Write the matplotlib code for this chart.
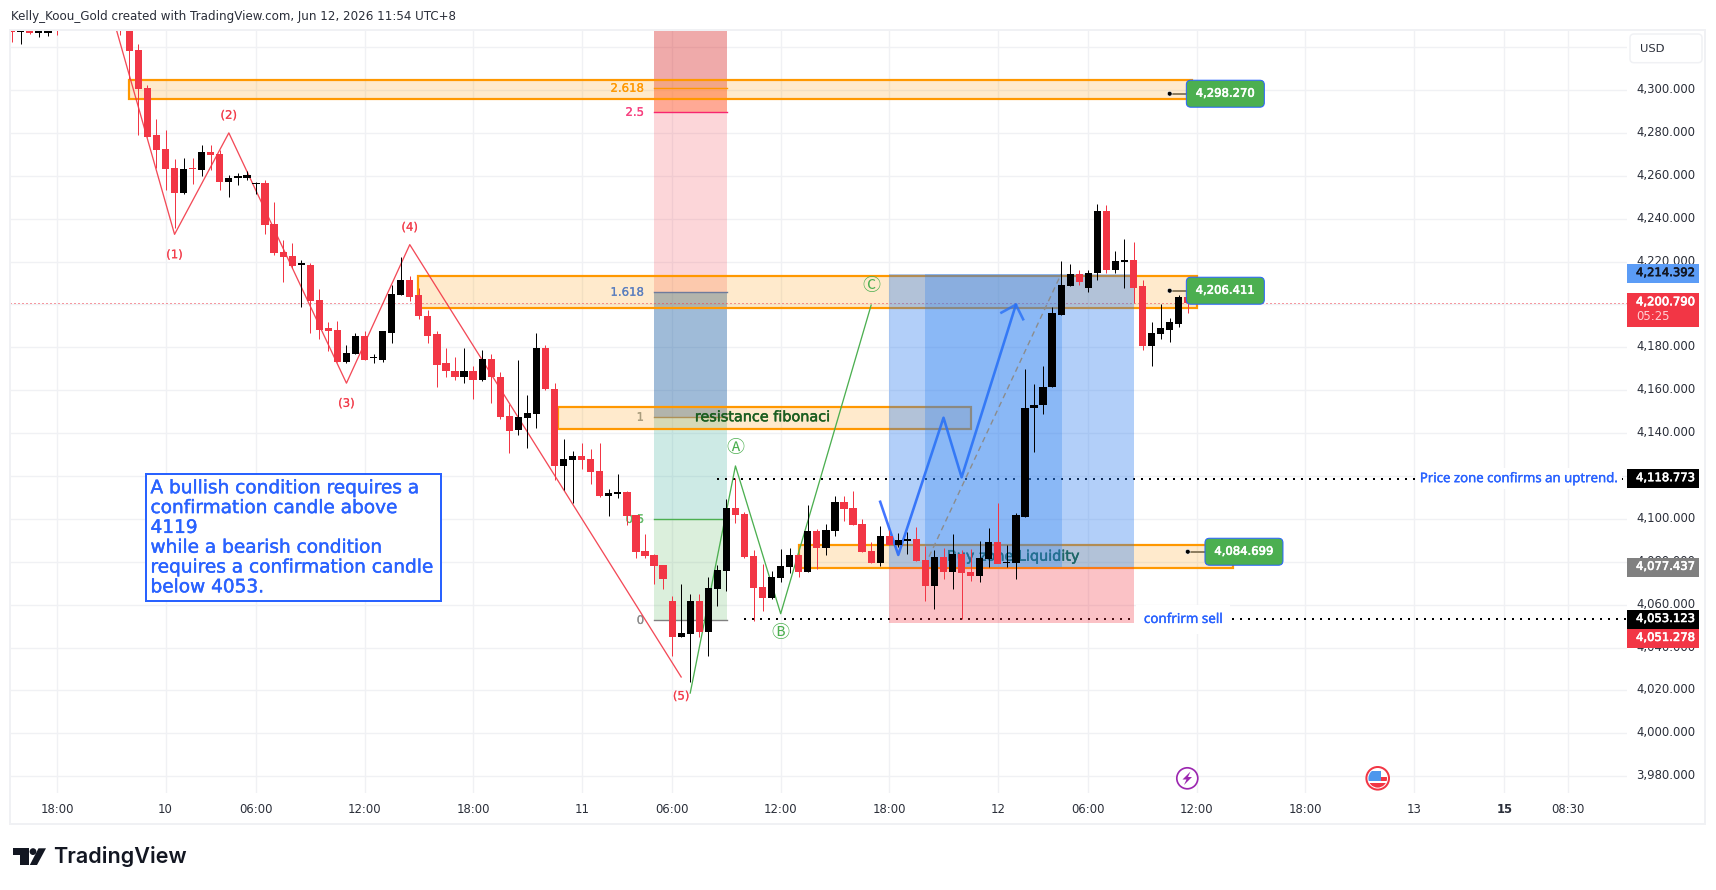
"""XAUUSD 30m chart with Elliott wave markup, in the TradingView snapshot look."""
import numpy as np
import matplotlib
matplotlib.use("Agg")
import matplotlib.pyplot as plt
import matplotlib.patheffects as pe
from matplotlib.patches import Rectangle, FancyBboxPatch, Circle, Polygon
from matplotlib.transforms import Affine2D, ScaledTranslation

W, H = 1716, 890
nan = float("nan")

# candles, first entry is bar -17 (bar 0 is the "10" day tick)
first_bar = -17
opens = [4335, 4327, 4335, 4326.8, 4326.7, 4335, nan, nan, nan, nan, nan, nan,
         4360, 4348, 4318.7, 4300.9, 4279.0, 4272.4, 4263.6, 4251.9, 4263.6, 4262.6,
         4271.0, 4270.1, 4257, 4259.2, 4258.9, 4256.2, 4256.5, 4237.4, 4224.3, 4222.4,
         4218.6, 4218.6, 4202.3, 4188.8, 4187.9, 4173.4, 4177.0, 4185.1, 4175, 4174.3,
         4186.9, 4204.6, 4211.6, 4204.2, 4194.8, 4186, 4172.5, 4169.2, 4166, 4168.8,
         4164.6, 4174.8, 4166.4, 4147.8, 4141.3, 4146.9, 4148.7, 4179.5, 4160.8, 4124.6,
         4127.4, 4129.2, 4127.8, 4122.2, 4110.6, 4111.5, 4112.4, 4101.7, 4084.9, 4083,
         4078.4, 4061.6, 4044.8, 4046.2, 4061.6, 4047.1, 4067.2, 4075.6, 4105, 4102.2,
         4082.6, 4068.1, 4063, 4072.3, 4077.4, 4083, 4075.1, 4094.2, 4086.3, 4094.2,
         4107.8, 4105, 4097.5, 4084.9, 4079.3, 4091.9, 4087.7, 4089.7, 4090.5, 4080.7,
         4068.6, 4082.1, 4075.1, 4083.5, 4075.1, 4073.2, 4081.2, 4089.1, 4079.3, 4079.6,
         4101.1, 4151.5, 4152.9, 4161.3, 4195.3, 4208.4, 4214, 4207.9, 4214.5, 4243.4,
         4215.9, 4219.6, 4220.5, 4208.4, 4180.4, 4186, 4188.3, 4191.1, 4203.7]
highs = [4337, 4338, 4336, 4330, 4333, 4336, nan, nan, nan, nan, nan, nan,
         4365, 4352, 4321.5, 4302.2, 4286.4, 4281.3, 4267.8, 4268.2, 4268.2, 4274.3,
         4274.3, 4272, 4260.3, 4261.2, 4262.1, 4257, 4257.9, 4247.7, 4229.9, 4228.5,
         4220.9, 4219.2, 4207, 4191.6, 4192.5, 4181.3, 4186.5, 4187.4, 4176.7, 4187.4,
         4209.3, 4221.9, 4213.5, 4207.9, 4197.2, 4187.4, 4179.5, 4175.3, 4179.5, 4171.1,
         4179, 4176.7, 4168.3, 4153.4, 4173.9, 4158, 4186.5, 4181.3, 4163.6, 4137.2,
         4131.6, 4135.3, 4132.5, 4135.3, 4113.8, 4120.8, 4112.9, 4101.7, 4092.8, 4083.5,
         4078.4, 4063.9, 4069.5, 4064.9, 4064.9, 4072.8, 4078.4, 4109.2, 4119, 4103.1,
         4085.4, 4078.8, 4075.6, 4085.8, 4086.3, 4083.5, 4106.4, 4095.2, 4097.5, 4110.6,
         4110.6, 4112.9, 4099.8, 4089.1, 4096.6, 4094.7, 4093.3, 4093.8, 4096.1, 4087.2,
         4085.4, 4086.3, 4092.8, 4085.4, 4085.8, 4089.6, 4095.6, 4107.6, 4088, 4102.6,
         4170.1, 4163.1, 4171.5, 4198.6, 4220.1, 4218.7, 4216.3, 4215.9, 4246.7, 4246.2,
         4224.7, 4230.3, 4228.9, 4211.2, 4191.6, 4200, 4193.5, 4204.2, 4204.2]
lows = [4322.5, 4321.4, 4326, 4324.6, 4325.3, 4325.6, nan, nan, nan, nan, nan, nan,
        4325.6, 4305, 4279.1, 4278.0, 4263.6, 4253.4, 4235.5, 4251.6, 4256.1, 4259.8,
        4262.6, 4253.3, 4250.0, 4255.6, 4257.9, 4251.4, 4232.7, 4222.9, 4210.7, 4216.8,
        4199, 4186.9, 4183.7, 4178.1, 4173.4, 4172.9, 4176.7, 4173.9, 4172.5, 4173.4,
        4181.8, 4204.6, 4201.8, 4193.4, 4181.8, 4161.3, 4166.4, 4164.6, 4163.2, 4155.7,
        4164.1, 4153.9, 4146.4, 4130.6, 4138.9, 4132.9, 4142.2, 4159.9, 4118, 4113.4,
        4107.3, 4123.2, 4116.2, 4110.1, 4101.2, 4109.6, 4097, 4081.6, 4081.6, 4069.5,
        4067.2, 4035.9, 4044.8, 4023.8, 4044.8, 4035.9, 4059.3, 4066.3, 4098, 4081.6,
        4052.6, 4056.9, 4062.5, 4070.5, 4074.6, 4072.8, 4075.1, 4076.5, 4083, 4091.9,
        4098.9, 4097, 4084.4, 4079.3, 4077.9, 4087.7, 4086.8, 4083.5, 4080.2, 4061.6,
        4057.9, 4071.9, 4067.2, 4053.2, 4070.9, 4070.5, 4077.4, 4079.3, 4077.8, 4072.2,
        4101.1, 4131.4, 4149.1, 4161.3, 4195.3, 4208.4, 4209.3, 4205.6, 4211.2, 4214.5,
        4214.5, 4207.5, 4200.9, 4179, 4171.5, 4183.7, 4182.7, 4189.3, 4195.8]
closes = [4326.9, 4335, 4326.6, 4327, 4331, 4331, nan, nan, nan, nan, nan, nan,
          4345, 4318.4, 4300.6, 4278.3, 4272.0, 4263.1, 4251.9, 4263.1, 4263.1, 4271.0,
          4269.6, 4257.0, 4258.9, 4259.5, 4260.3, 4256.5, 4236.9, 4223.8, 4222.0, 4217.8,
          4218.9, 4201.8, 4188.3, 4187.4, 4173.4, 4177.6, 4185.1, 4174.3, 4175.3, 4187.4,
          4205.1, 4211.6, 4203.7, 4194.4, 4185.5, 4172, 4168.8, 4166, 4168.8, 4164.6,
          4174.8, 4166.4, 4147.3, 4140.8, 4147.3, 4149.2, 4179.5, 4160.8, 4124.6, 4127.8,
          4129.2, 4127.4, 4121.8, 4110.6, 4112, 4112.4, 4101.2, 4084.4, 4082.6, 4077.9,
          4071.9, 4044.8, 4046.7, 4061.6, 4047.1, 4067.7, 4076, 4105, 4101.7, 4082.1,
          4067.7, 4063, 4072.8, 4077.9, 4083, 4075.1, 4094.2, 4086.3, 4094.7, 4107.8,
          4104.5, 4097, 4084.4, 4079.3, 4091.9, 4087.7, 4090, 4090.5, 4080.2, 4068.6,
          4082.1, 4075.1, 4083.5, 4074.6, 4073.2, 4081.6, 4089.1, 4079.2, 4080.1, 4101.6,
          4151.9, 4153.3, 4161.7, 4195.8, 4208.9, 4214, 4210.7, 4214.9, 4243.4, 4216.3,
          4220.1, 4220.5, 4207.9, 4180.4, 4186.9, 4188.8, 4191.6, 4203.7, 4200.79]

# axis labels
price_ticks = list(range(3980, 4321, 20))
time_bars = [-12, 0, 10, 22, 34, 46, 56, 68, 80, 92, 102, 114, 126, 138, 148, 155]
time_labels = ["18:00", "10", "06:00", "12:00", "18:00", "11", "06:00", "12:00",
               "18:00", "12", "06:00", "12:00", "18:00", "13", "15", "08:30"]

# wave markup
impulse_bars = [-7, 1, 7, 20, 27, 57]
impulse_prices = [4351.4, 4232.7, 4280, 4163.3, 4227.9, 4026.3]
impulse_label_bars = [1, 7, 20, 27, 57]
impulse_label_prices = [4223.2, 4288.2, 4153.9, 4236, 4017.4]
impulse_labels = ["(1)", "(2)", "(3)", "(4)", "(5)"]
abc_bars = [58, 63, 68, 78]
abc_prices = [4018.8, 4124.7, 4055.8, 4199.7]
abc_label_bars = [63, 68, 78]
abc_label_prices = [4133.2, 4047, 4208.5]
abc_labels = ["\u24b6", "\u24b7", "\u24b8"]
plan_bars = [79, 81, 86, 88, 94]
plan_prices = [4108, 4083.2, 4147.2, 4119.4, 4199.9]
plan_head_bars = [92.4, 94, 94.8]
plan_head_prices = [4196.2, 4199.9, 4193.1]

# fibonacci column
fib_bars = (54, 62.07)
fib_levels = ["0", "0.5", "1", "1.618", "2.5", "2.618"]
fib_prices = [4052.7, 4099.8, 4147.4, 4205.7, 4289.6, 4300.8, 4345]
fib_line_colors = ["#808080", "#4caf50", "#9a8f6c", "#4a74c4", "#f7256f", "#ff9800"]
fib_text_colors = ["#8c8c8c", "#66bb6a", "#a89c7c", "#5b7fbf", "#f7407f", "#ff9800"]
fib_fills = [("#4caf50", .2), ("#089981", .2), ("#11579f", .4),
             ("#f23645", .2), ("#ff552d", .5), ("#d92b2b", .4)]

# orange zones: left bar, right bar, low, high
zone_left = [-4, 27.9, 43.4, 70]
zone_right = [113.5, 114, 89, 118]
zone_low = [4295.8, 4198.3, 4142, 4077.1]
zone_high = [4304.7, 4213.3, 4152.3, 4087.8]

# price tags
alert_dot_bars = [111, 111, 113]
alert_box_bars = [112.84, 112.84, 114.9]
alert_prices = [4298.27, 4206.411, 4084.699]
tag_prices = [4214.392, 4118.773, 4077.437, 4053.123, 4051.278]
tag_colors = ["#5b9cf6", "#000000", "#808080", "#000000", "#f23645"]
tag_text_colors = ["#131722", "#ffffff", "#ffffff", "#ffffff", "#ffffff"]
tag_shift_px = [0, 0, 0, 0, 15]  # stacked so the two lowest tags do not cover each other
last_price = 4200.79
upper_dots = 4118.773
lower_dots = 4053.123

RED = "#f23645"
BLUE = "#2962ff"
ORANGE = "#ff9800"
GRID = "#f0f1f4"
PT = 0.72  # px to pt at dpi 100
CIRCLED = ["Noto Sans CJK JP", "DejaVu Sans"]


def heavy(width=.35, color="white"):
    return [pe.withStroke(linewidth=width, foreground=color)]


plt.rcParams["font.family"] = ["DejaVu Sans"]
fig = plt.figure(figsize=(W / 100, H / 100), dpi=100, facecolor="white")
ax = fig.add_axes([10 / W, (H - 793) / H, 1617 / W, 763 / H])
ax.set_xlim(-17.19, 161.55)
ax.set_ylim(3972.2, 4327.98)
ax.set_facecolor("white")
for s in ax.spines.values():
    s.set_visible(False)

ax.set_yticks(price_ticks)
ax.set_yticklabels(["" if p == 4320 else f"{p:,.3f}" for p in price_ticks])
ax.yaxis.tick_right()
ax.set_xticks(time_bars)
ax.set_xticklabels(time_labels)
ax.tick_params(axis="y", length=0, pad=6.5, labelsize=11.6 * PT, labelcolor="#2a2e39")
ax.tick_params(axis="x", length=0, pad=7, labelsize=11.6 * PT, labelcolor="#2a2e39")
ax.get_xticklabels()[time_labels.index("15")].set_fontweight("bold")
for label in ax.get_yticklabels():
    label.set_transform(label.get_transform() + ScaledTranslation(0, 2 / 100, fig.dpi_scale_trans))
ax.grid(True, color=GRID, lw=1, zorder=0.5)
ax.set_axisbelow(True)

# pixel space, origin top left, for the chrome around the pane
px = Affine2D().scale(1, -1).translate(0, H)


def to_px(bar, price):
    x, y = ax.transData.transform((bar, price))
    return x, H - y


# fib column
for i in range(6):
    color, alpha = fib_fills[i]
    ax.add_patch(Rectangle((fib_bars[0], fib_prices[i]), fib_bars[1] - fib_bars[0],
                           fib_prices[i + 1] - fib_prices[i], fc=color, alpha=alpha, lw=0, zorder=1))
    ax.plot(fib_bars, [fib_prices[i]] * 2, color=fib_line_colors[i], lw=1, zorder=1.2)
    ax.text(fib_bars[0] - 1.1, fib_prices[i], fib_levels[i], color=fib_text_colors[i],
            fontsize=11.7 * PT, ha="right", va="center", zorder=2.05,
            path_effects=heavy(.15, fib_text_colors[i]))

# zones
for left, right, low, high in zip(zone_left, zone_right, zone_low, zone_high):
    ax.add_patch(Rectangle((left, low), right - left, high - low, fc=(1, .596, 0, .2),
                           ec=ORANGE, lw=2.2 * PT, zorder=2))
ax.text(66.0, 4147.4, "resistance fibonaci", color="#1b5e20", fontsize=14.4 * PT,
        ha="center", va="center", zorder=2.1, path_effects=heavy(.35, "#1b5e20"))
ax.text(93.7, 4082.4, "Buy zone Liquidity", color="#1b5e20", fontsize=14.4 * PT,
        ha="center", va="center", zorder=2.1, path_effects=heavy(.35, "#1b5e20"))

# dotted levels, drawn under the position boxes
ax.hlines(upper_dots, 61, 161.55, color="black", lw=2 * PT, linestyles=(0, (1, 3)), zorder=2.15)
ax.hlines(lower_dots, 64, 161.55, color="black", lw=2 * PT, linestyles=(0, (1, 3)), zorder=2.15)
ax.hlines(last_price, -17.19, 161.55, color=RED, lw=1 * PT, linestyles=(0, (1, 3)), zorder=2.15)

# planned move
ax.plot(plan_bars, plan_prices, color=BLUE, alpha=.88, lw=2.6 * PT, zorder=2.2)
ax.plot(plan_head_bars, plan_head_prices, color=BLUE, alpha=.8, lw=2.6 * PT, zorder=2.2)

# long positions
ax.add_patch(Rectangle((80, 4077.437), 27, 4214.392 - 4077.437, fc="#2378f0", alpha=.35, lw=0, zorder=3))
ax.add_patch(Rectangle((80, 4051.278), 27, 4077.437 - 4051.278, fc=RED, alpha=.3, lw=0, zorder=3))
ax.add_patch(Rectangle((84, 4077.437), 15.06, 4214.392 - 4077.437, fc="#3083f0", alpha=.3, lw=0, zorder=3.1))
ax.plot([84.4, 99], [4082.4, 4214.2], color="#8c8c8c", lw=1, ls=(0, (4, 3)), zorder=3.2)

# waves
ax.plot(impulse_bars, impulse_prices, color=RED, lw=1.3 * PT, alpha=.9, zorder=4)
ax.plot(abc_bars, abc_prices, color="#4caf50", lw=1.3 * PT, zorder=4)
for b, p, s in zip(impulse_label_bars, impulse_label_prices, impulse_labels):
    ax.text(b, p, s, color=RED, alpha=.85, fontsize=11.7 * PT, ha="center", va="center", zorder=6,
            path_effects=heavy(.15, RED))
for b, p, s in zip(abc_label_bars, abc_label_prices, abc_labels):
    ax.text(b, p, s, color="#4caf50", fontsize=18 * PT, family=CIRCLED, ha="center", va="center", zorder=6)

# candles
bars = np.arange(first_bar, first_bar + len(opens))
o, h, l, c = map(np.array, (opens, highs, lows, closes))
keep = ~np.isnan(o)
bars, o, h, l, c = bars[keep], o[keep], h[keep], l[keep], c[keep]
colors = np.where(c >= o, "#000000", RED)
ax.vlines(bars, l, h, colors=colors, lw=1 * PT, zorder=5)
bottoms = np.minimum(o, c)
ax.bar(bars, np.maximum(np.abs(c - o), 0.6), bottom=bottoms, width=.8, color=colors, lw=0, zorder=5.1)

# text box
ax.add_patch(Rectangle((-2.15, 4061.7), 32.6, 59.4, fc="white", ec=BLUE, lw=2 * PT, zorder=7))
note = ("A bullish condition requires a\nconfirmation candle above\n4119\n"
        "while a bearish condition\nrequires a confirmation candle\nbelow 4053.")
ax.text(-1.66, 4091.2, note, color=BLUE, fontsize=18.5 * PT,
        ha="left", va="center", linespacing=1.13, zorder=7.1, path_effects=heavy(.3, BLUE))

# line labels, white background hides the dots behind them
ax.text(149.6, upper_dots, "Price zone confirms an uptrend.", color=BLUE, fontsize=13.2 * PT,
        family="Noto Sans", ha="center", va="center", zorder=6,
        bbox=dict(fc="white", ec="none", pad=3), path_effects=heavy(.25, BLUE))
ax.text(112.5, lower_dots, "confrirm sell", color=BLUE, fontsize=13.4 * PT, family="Noto Sans",
        ha="center", va="center", zorder=6, bbox=dict(fc="white", ec="none", pad=5.5),
        path_effects=heavy(.25, BLUE))

fig.canvas.draw()

# outer frame, header, logo
fig.add_artist(Rectangle((10, 30), 1695, 794, fc="none", ec=GRID, lw=2 * PT, transform=px, zorder=1))
fig.text(11, 16.7, "Kelly_Koou_Gold created with TradingView.com, Jun 12, 2026 11:54 UTC+8",
         color="#2a2e39", fontsize=11.9 * PT, ha="left", va="center", transform=px)
fig.add_artist(FancyBboxPatch((1630, 34), 72, 28.7, boxstyle="round,pad=0,rounding_size=4",
                              fc="white", ec=GRID, lw=1.5 * PT, transform=px, zorder=3))
fig.text(1640, 48.5, "USD", color="#2a2e39", fontsize=11.5 * PT, ha="left", va="center",
         transform=px, zorder=4)

logo = "#131722"
fig.add_artist(Polygon([(13, 848.3), (28.5, 848.3), (28.5, 865), (20, 865), (20, 855), (13, 855)],
                       fc=logo, lw=0, transform=px, zorder=3))
fig.add_artist(Circle((33, 851.6), 3.4, fc=logo, lw=0, transform=px, zorder=3))
fig.add_artist(Polygon([(38.5, 848.3), (46, 848.3), (37, 865), (29.8, 865)], fc=logo, lw=0,
                       transform=px, zorder=3))
fig.text(53.6, 856.5, "TradingView", color=logo, fontsize=21.6 * PT, family="Inter", weight="semibold",
         ha="left", va="center", transform=px, zorder=3)

# alert boxes with their pointer line
for dot_bar, box_bar, price in zip(alert_dot_bars, alert_box_bars, alert_prices):
    dx, dy = to_px(dot_bar, price)
    bx, by = to_px(box_bar, price)
    fig.add_artist(plt.Line2D([dx, bx], [dy, dy], color="#8d7d5f", lw=2 * PT, transform=px, zorder=3))
    fig.add_artist(Circle((dx, dy), 2.4, fc="black", ec="white", lw=.4, transform=px, zorder=3.1))
    fig.add_artist(FancyBboxPatch((bx, dy - 13.5), 78, 27, boxstyle="round,pad=0,rounding_size=4.5",
                                  fc="#4caf50", ec=BLUE, lw=1 * PT, transform=px, zorder=3.2))
    fig.text(bx + 39, dy - .5, f"{price:,.3f}", color="white", fontsize=11.6 * PT, ha="center", va="center",
             transform=px, zorder=3.3, path_effects=heavy(.45))

# price axis tags
for price, color, tcolor, shift in zip(tag_prices, tag_colors, tag_text_colors, tag_shift_px):
    _, y = to_px(0, price)
    y += shift
    fig.add_artist(Rectangle((1627, y - 9.5), 72, 19, fc=color, lw=0, transform=px, zorder=3))
    fig.text(1636, y - 1, f"{price:,.3f}", color=tcolor, fontsize=11.6 * PT, ha="left", va="center",
             transform=px, zorder=4, path_effects=heavy(.45, tcolor))
_, y = to_px(0, last_price)
fig.add_artist(Rectangle((1627, y - 10), 72, 34, fc=RED, lw=0, transform=px, zorder=3))
fig.text(1636, y - 1, f"{last_price:,.3f}", color="white", fontsize=11.6 * PT, ha="left",
         va="center", transform=px, zorder=4, path_effects=heavy(.55))
fig.text(1636, y + 13.5, "05:25", color="#ffd0d4", fontsize=11.6 * PT, ha="left", va="center",
         transform=px, zorder=4)

# event markers on the time axis
purple = "#9c27b0"
fig.add_artist(Circle((1187.3, 778.3), 10.5, fc="white", ec=purple, lw=1.7 * PT, transform=px, zorder=3))
fig.add_artist(Polygon([(1190.5, 771.5), (1182.5, 779.5), (1186.5, 779.5), (1184, 785),
                       (1192, 777), (1188, 777)], fc=purple, lw=0, transform=px, zorder=3.1))
ring = Circle((1377.7, 778.3), 11.3, fc="white", ec=RED, lw=2 * PT, transform=px, zorder=3)
fig.add_artist(ring)
inner = Circle((1377.7, 778.3), 9.3, transform=px)
for box, size, color in [((1368, 770.7), (13, 10), "#4d97ed"), ((1381, 776.7), (8, 4), RED),
                         ((1368, 783), (20, 4.5), RED)]:
    patch = Rectangle(box, *size, fc=color, lw=0, transform=px, zorder=3.1)
    fig.add_artist(patch)
    patch.set_clip_path(inner)

fig.savefig("out.png", dpi=100)
